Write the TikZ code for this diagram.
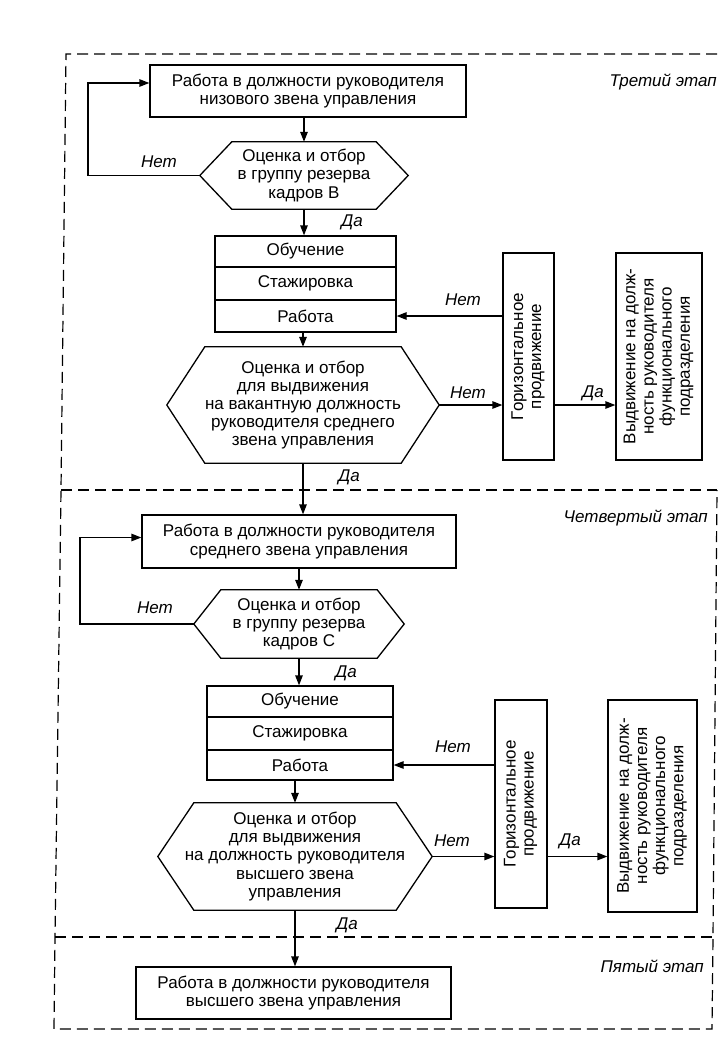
\documentclass[tikz,border=0pt]{standalone}
\usepackage{fontspec}
\setmainfont{Liberation Sans}
\usetikzlibrary{arrows.meta,calc}
\newcommand\hexdraw[2]{\draw[ln] (#1.west) -- ([xshift=#2]#1.north west) -- ([xshift=-#2]#1.north east) -- (#1.east) -- ([xshift=-#2]#1.south east) -- ([xshift=#2]#1.south west) -- cycle;}
\begin{document}
\begin{tikzpicture}[x=1pt,y=-1pt,
  every node/.style={font=\fontsize{17}{18.2}\selectfont, inner sep=0pt},
  ln/.style={line width=1.3pt},
  arr/.style={ln, -{Triangle[length=10pt,width=7.5pt]}},
  frame/.style={line width=1.2pt, dash pattern=on 11pt off 6pt},
  blk/.style={draw, ln, align=center},
  lab/.style={font=\fontsize{17}{18.2}\selectfont\itshape}]
\useasboundingbox (0,0) rectangle (717,1046);
% frame
\coordinate (ftl) at (66,54);
\coordinate (ftr) at (717,54);
\coordinate (fl1) at (61,490);
\coordinate (fr1) at (717,490);
\coordinate (fl2) at (55,937);
\coordinate (fr2) at (713,937);
\coordinate (fbl) at (54,1029);
\coordinate (fbr) at (712,1029);
\draw[frame] (ftr) -- (ftl) -- (fl1) -- (fl2) -- (fbl) -- (fbr) -- (fr2) -- (fr1);
\draw[frame] (fl1) -- (fr1);
\draw[frame] (fl2) -- (fr2);
\node[lab, anchor=east] (st3) at (717,82) {Третий этап};
\node[lab, anchor=east] (st4) at (708,518) {Четвертый этап};
\node[lab, anchor=east] (st5) at (704,966) {Пятый этап};

% ---- stage 3
\node[blk, minimum width=316pt, minimum height=52pt] (box1) at (308,91) {Работа в должности руководителя\\низового звена управления};
\node[align=center, minimum width=208pt, minimum height=67pt] (hex1) at (304,175.5) {Оценка и отбор\\в группу резерва\\кадров B};
\hexdraw{hex1}{32pt}
\node[blk, minimum width=181pt, minimum height=31pt] (s1a) at (305.5,251.5) {Обучение};
\node[blk, minimum width=181pt, minimum height=33pt] (s1b) at (305.5,283.5) {Стажировка};
\node[blk, minimum width=181pt, minimum height=32pt] (s1c) at (305.5,316) {Работа};
\node[align=center, minimum width=272pt, minimum height=116pt] (hex2) at (303,405) {Оценка и отбор\\для выдвижения\\на вакантную должность\\руководителя среднего\\звена управления};
\hexdraw{hex2}{38pt}
\node[blk, minimum width=51pt, minimum height=207pt] (hz1) at (528.5,356.5) {\rotatebox{90}{\begin{tabular}{@{}c@{}}Горизонтальное\\продвижение\end{tabular}}};
\node[blk, minimum width=86pt, minimum height=207pt] (rt1) at (659,356.5) {\rotatebox{90}{\begin{tabular}{@{}c@{}}Выдвижение на долж-\\ность руководителя\\функционального\\подразделения\end{tabular}}};

\coordinate (l1) at (88,0);
\draw[arr] (box1.south -| hex1.north) -- (hex1.north);
\draw[arr] (hex1.west) -- (hex1.west -| l1) |- ([yshift=8pt]box1.west);
\draw[arr] (hex1.south) -- (hex1.south |- s1a.north);
\draw[arr] (s1c.south -| hex2.north) -- (hex2.north);
\draw[arr] (hex2.east) -- (hex2.east -| hz1.west);
\draw[arr] (hz1.west |- s1c.east) -- (s1c.east);
\draw[arr] (hz1.east |- hex2.east) -- (rt1.west |- hex2.east);
\node[lab] (n1) at (159,162) {Нет};
\node[lab] (d1) at (352,222) {Да};
\node[lab] (n2) at (463,300) {Нет};
\node[lab] (n3) at (468,393) {Нет};
\node[lab] (d2) at (593,393) {Да};
\node[lab] (d3) at (349,477) {Да};

% ---- stage 4
\node[blk, minimum width=314pt, minimum height=53pt] (box2) at (299,541.5) {Работа в должности руководителя\\среднего звена управления};
\draw[arr] (hex2.south) -- (hex2.south |- box2.north);
\node[align=center, minimum width=210pt, minimum height=68pt] (hex3) at (299,624) {Оценка и отбор\\в группу резерва\\кадров C};
\hexdraw{hex3}{27pt}
\node[blk, minimum width=186pt, minimum height=31pt] (s2a) at (300,701.5) {Обучение};
\node[blk, minimum width=186pt, minimum height=33pt] (s2b) at (300,733.5) {Стажировка};
\node[blk, minimum width=186pt, minimum height=30pt] (s2c) at (300,765) {Работа};
\node[align=center, minimum width=274pt, minimum height=107pt] (hex4) at (295,856.5) {Оценка и отбор\\для выдвижения\\на должность руководителя\\высшего звена\\управления};
\hexdraw{hex4}{36pt}
\node[blk, minimum width=52pt, minimum height=208pt] (hz2) at (521,804) {\rotatebox{90}{\begin{tabular}{@{}c@{}}Горизонтальное\\продвижение\end{tabular}}};
\node[blk, minimum width=89pt, minimum height=212pt] (rt2) at (652.5,806) {\rotatebox{90}{\begin{tabular}{@{}c@{}}Выдвижение на долж-\\ность руководителя\\функционального\\подразделения\end{tabular}}};

\coordinate (l2) at (80,0);
\draw[arr] (box2.south -| hex3.north) -- (hex3.north);
\draw[arr] (hex3.west) -- (hex3.west -| l2) |- ([yshift=4pt]box2.west);
\draw[arr] (hex3.south) -- (hex3.south |- s2a.north);
\draw[arr] (s2c.south -| hex4.north) -- (hex4.north);
\draw[arr] (hex4.east) -- (hex4.east -| hz2.west);
\draw[arr] (hz2.west |- s2c.east) -- (s2c.east);
\draw[arr] (hz2.east |- hex4.east) -- (rt2.west |- hex4.east);
\node[lab] (n4) at (155,608) {Нет};
\node[lab] (d4) at (346,673) {Да};
\node[lab] (n5) at (453,747) {Нет};
\node[lab] (n6) at (452,841) {Нет};
\node[lab] (d5) at (570,841) {Да};
\node[lab] (d6) at (347,925) {Да};

% ---- stage 5
\node[blk, minimum width=315pt, minimum height=52pt] (box3) at (293.5,993) {Работа в должности руководителя\\высшего звена управления};
\draw[arr] (hex4.south) -- (hex4.south |- box3.north);
\end{tikzpicture}
\end{document}
